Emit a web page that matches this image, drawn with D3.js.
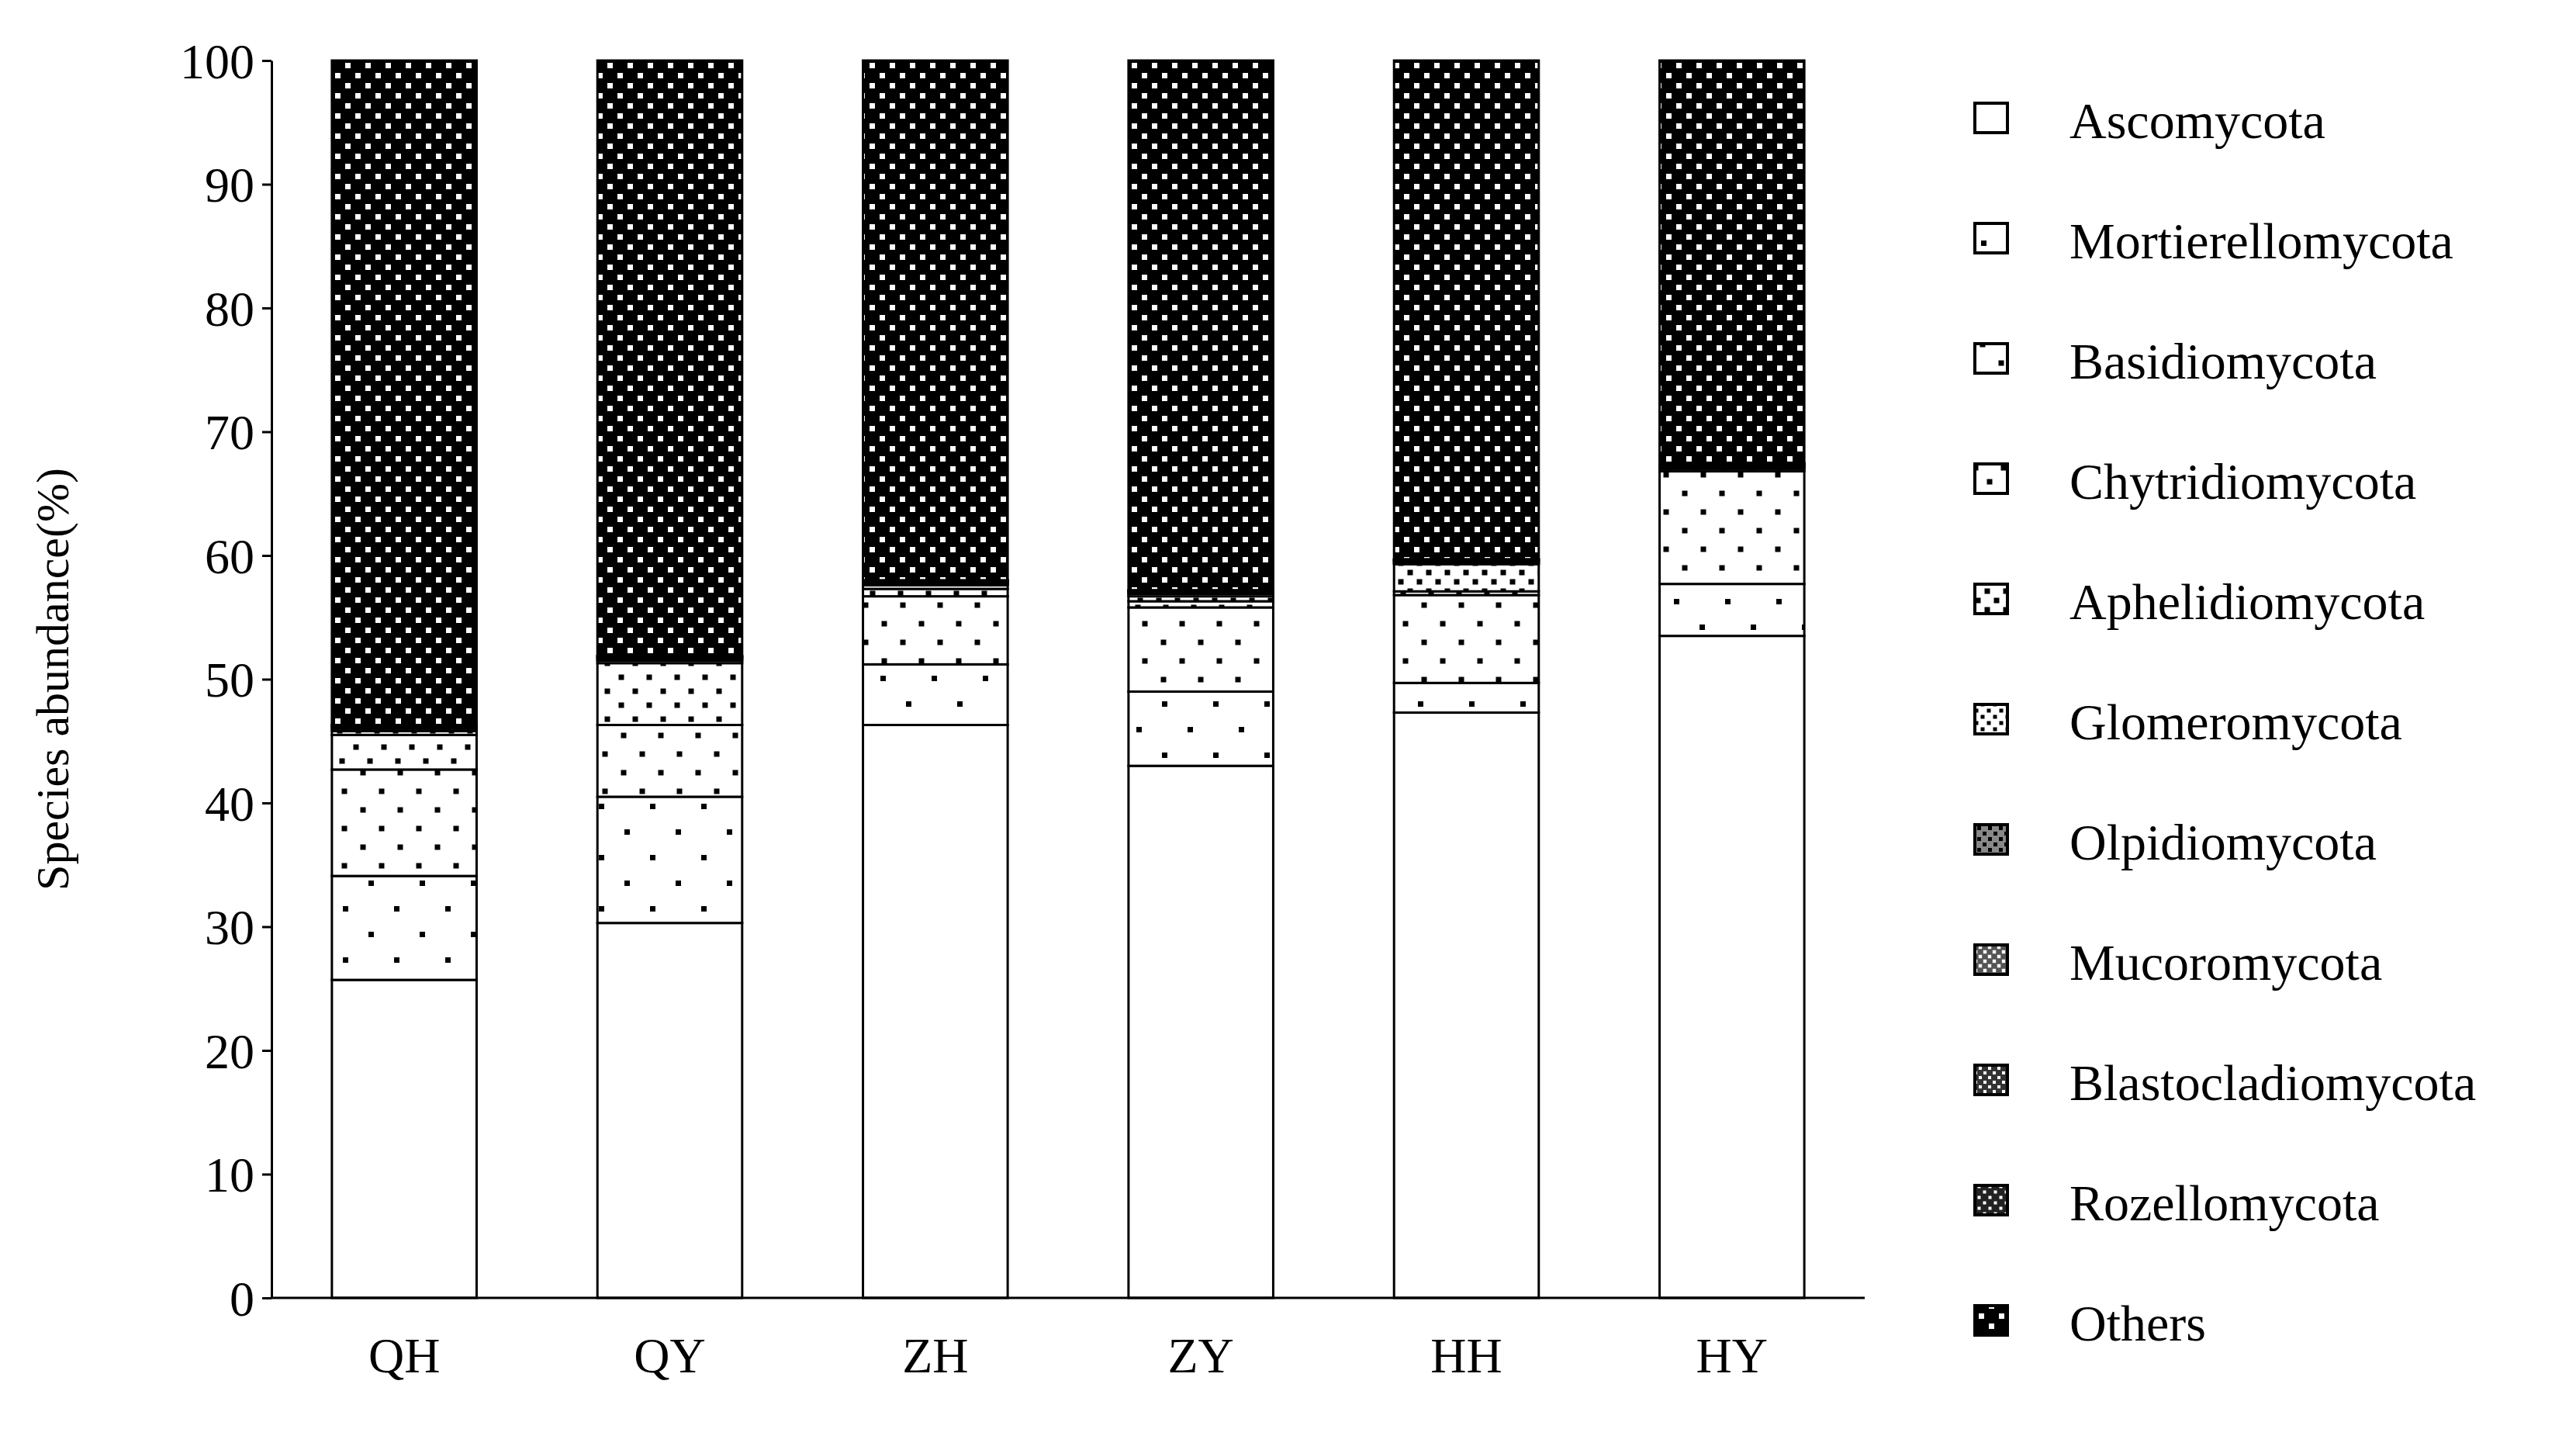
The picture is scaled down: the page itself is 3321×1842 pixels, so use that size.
<!DOCTYPE html>
<html><head><meta charset="utf-8">
<script src="https://cdn.jsdelivr.net/npm/d3@7"></script>
<style>body{margin:0;background:#fff}svg{display:block}text{font-family:"Liberation Serif","Times New Roman",serif}</style>
</head><body><svg id="c" width="3321" height="1842"></svg>
<script>
const categories = ["QH","QY","ZH","ZY","HH","HY"];
const seriesNames = ["Ascomycota","Mortierellomycota","Basidiomycota","Chytridiomycota","Aphelidiomycota","Glomeromycota","Olpidiomycota","Mucoromycota","Blastocladiomycota","Rozellomycota","Others"];
const ascomycota        = [25.7, 30.3, 46.3, 43.0, 47.3, 53.5];
const mortierellomycota = [8.4, 10.2, 4.9, 6.0, 2.4, 4.2];
const basidiomycota     = [8.6, 5.8, 5.5, 6.8, 7.1, 9.1];
const chytridiomycota   = [2.8, 5.0, 0.6, 0.5, 0.3, 0.2];
const aphelidiomycota   = [0.3, 0.2, 0.3, 0.4, 2.2, 0.1];
const glomeromycota     = [0.2, 0.1, 0.1, 0.2, 0.1, 0.1];
const olpidiomycota     = [0.1, 0.1, 0.1, 0.1, 0.1, 0.1];
const mucoromycota      = [0.1, 0.1, 0.1, 0.1, 0.1, 0.05];
const blastocladiomycota= [0.05,0.05,0.05,0.05,0.05,0.05];
const rozellomycota     = [0.05,0.05,0.05,0.05,0.05,0.05];
const yTicks = [0,10,20,30,40,50,60,70,80,90,100];
const seriesValues = [ascomycota,mortierellomycota,basidiomycota,chytridiomycota,aphelidiomycota,glomeromycota,olpidiomycota,mucoromycota,blastocladiomycota,rozellomycota];
const others = categories.map((c,i)=>100 - d3.sum(seriesValues,s=>s[i]));
seriesValues.push(others);

const table = categories.map((c,i)=>{const o={cat:c}; seriesNames.forEach((n,j)=>o[n]=seriesValues[j][i]); return o;});

const svg = d3.select("#c");
const L=350,R=2404,T=78,B=1673;
const x = d3.scaleBand().domain(categories).range([L,R]).paddingInner(0.455).paddingOuter(0.2275);
const y = d3.scaleLinear().domain([0,100]).range([B,T]);

// patterns
const defs = svg.append("defs");
function dots(id, sp, r, bg, fg){
  const p = defs.append("pattern").attr("id",id).attr("patternUnits","userSpaceOnUse").attr("width",sp*2).attr("height",sp*2);
  p.append("rect").attr("width",sp*2).attr("height",sp*2).attr("fill",bg);
  [[sp/2,sp/2],[sp*1.5,sp*1.5]].forEach(([a,b])=>p.append("rect").attr("x",a-r).attr("y",b-r).attr("width",2*r).attr("height",2*r).attr("fill",fg));
}
const pat = [null,
  ["p1",33,3.5,"#fff","#000"],
  ["p2",24,3.5,"#fff","#000"],
  ["p3",18,3.5,"#fff","#000"],
  ["p4",12,3.5,"#fff","#000"],
  ["p5",8,2.5,"#fff","#000"],
  ["p6",7,2.5,"#888","#000"],
  ["p7",6,2.2,"#555","#fff"],
  ["p8",6,2.0,"#333","#fff"],
  ["p9",7,2.0,"#222","#fff"],
  ["p10",13,3.5,"#000","#fff"]];
pat.forEach(p=>{ if(p) dots(...p); });
const fillOf = j => pat[j] ? `url(#${pat[j][0]})` : "#fff";

const stack = d3.stack().keys(seriesNames)(table);
svg.append("g").selectAll("g").data(stack).join("g")
  .attr("fill",(d,j)=>fillOf(j))
  .selectAll("rect").data(d=>d).join("rect")
  .attr("x",d=>x(d.data.cat)).attr("width",x.bandwidth())
  .attr("y",d=>y(d[1])).attr("height",d=>Math.max(0,y(d[0])-y(d[1])))
  .attr("stroke","#000").attr("stroke-width",3);

// axes
const ya = svg.append("g").attr("transform",`translate(${L},0)`).call(d3.axisLeft(y).tickValues(yTicks).tickSize(12).tickSizeOuter(0));
ya.selectAll("text").attr("font-size",64).attr("fill","#000").attr("x",-22).attr("dy","0.35em");
ya.selectAll("line,path").attr("stroke","#000").attr("stroke-width",3);
const xa = svg.append("g").attr("transform",`translate(0,${B})`).call(d3.axisBottom(x).tickSize(0).tickSizeOuter(0));
xa.selectAll("text").attr("font-size",64).attr("fill","#000").attr("dy","1.45em");
xa.selectAll("path").attr("stroke","#000").attr("stroke-width",3).attr("d",`M${L},0H${R}`);

svg.append("text").attr("transform",`translate(88,${(T+B)/2}) rotate(-90)`).attr("text-anchor","middle")
  .attr("font-size",60).text("Species abundance(%)");

// legend
const lg = svg.append("g");
seriesNames.forEach((n,j)=>{
  const yy = 155 + j*155;
  lg.append("rect").attr("x",2546).attr("y",yy-22).attr("width",42).attr("height",38).attr("fill",fillOf(j)).attr("stroke","#000").attr("stroke-width",4);
  lg.append("text").attr("x",2668).attr("y",yy).attr("dy","0.35em").attr("font-size",66).text(n);
});
</script></body></html>
